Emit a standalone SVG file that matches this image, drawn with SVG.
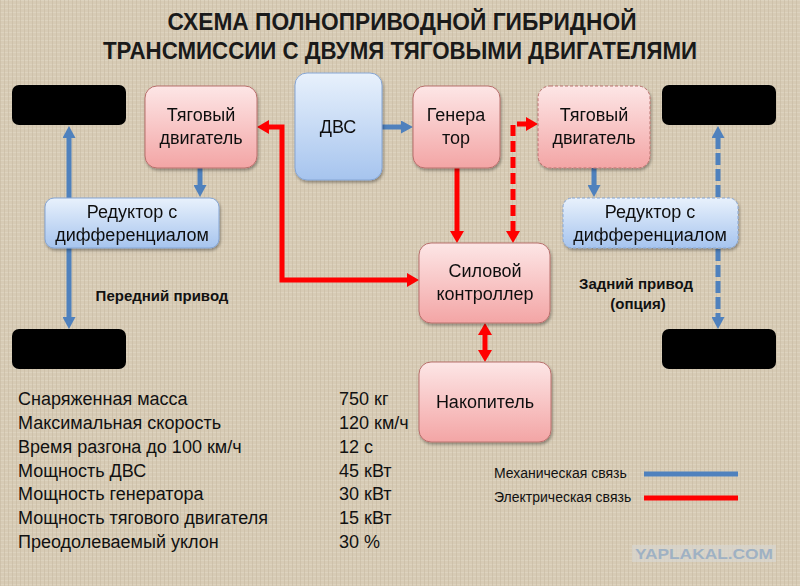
<svg xmlns="http://www.w3.org/2000/svg" width="800" height="586" viewBox="0 0 800 586">
<defs>
<style>
.t{font-family:"Liberation Sans",Arial,sans-serif;fill:#111}
.bx{font-size:18px;text-anchor:middle}
.ttl{font-size:24px;font-weight:bold;text-anchor:middle;fill:#1a1a1a}
.spec{font-size:18px}
.lbl{font-size:15px;font-weight:bold;text-anchor:middle}
.leg{font-size:14px}
.pink{fill:url(#gp);stroke:#b8706c;stroke-width:1}
.blue{fill:url(#gb);stroke:#86a6d4;stroke-width:1}
.dash{stroke-dasharray:3 2}
.wheel{fill:#000}
.mech{stroke:#4f81bd;stroke-width:5;fill:none}
.elec{stroke:#f00;stroke-width:5;fill:none}
</style>
<linearGradient id="gp" x1="0" y1="0" x2="0" y2="1">
<stop offset="0" stop-color="#fde6e6"/><stop offset="1" stop-color="#f3a5a5"/>
</linearGradient>
<linearGradient id="gb" x1="0" y1="0" x2="0" y2="1">
<stop offset="0" stop-color="#e8f1fc"/><stop offset="1" stop-color="#a6c4ee"/>
</linearGradient>
<filter id="sh" x="-10%" y="-10%" width="125%" height="130%">
<feDropShadow dx="1" dy="2" stdDeviation="1.5" flood-color="#000" flood-opacity="0.35"/>
</filter>
<pattern id="linen" width="4" height="4" patternUnits="userSpaceOnUse">
<rect width="4" height="4" fill="#d7cbb5"/>
<rect x="0" y="0" width="4" height="1" fill="#e0d6c3" opacity="0.7"/>
<rect x="0" y="0" width="1" height="4" fill="#c8bba3" opacity="0.6"/>
</pattern>
<marker id="ab" viewBox="0 0 12 13" markerWidth="12" markerHeight="13" refX="1" refY="6.5" orient="auto-start-reverse" markerUnits="userSpaceOnUse">
<path d="M0,0 L12,6.5 L0,13 Z" fill="#4f81bd"/>
</marker>
<marker id="ar" viewBox="0 0 12 14" markerWidth="12" markerHeight="14" refX="1" refY="7" orient="auto-start-reverse" markerUnits="userSpaceOnUse">
<path d="M0,0 L12,7 L0,14 Z" fill="#f00"/>
</marker>
</defs>
<rect width="800" height="586" fill="url(#linen)"/>

<g id="title">
<text class="t ttl" x="402" y="30" textLength="469" lengthAdjust="spacingAndGlyphs">СХЕМА ПОЛНОПРИВОДНОЙ ГИБРИДНОЙ</text>
<text class="t ttl" x="400" y="59" textLength="594" lengthAdjust="spacingAndGlyphs">ТРАНСМИССИИ С ДВУМЯ ТЯГОВЫМИ ДВИГАТЕЛЯМИ</text>
</g>

<g id="connectors">
<path class="mech" d="M382,127 L402,127" marker-end="url(#ab)"/>
<path class="mech" d="M69,137 L69,318" marker-start="url(#ab)" marker-end="url(#ab)"/>
<path class="mech" d="M200,168 L200,186" marker-end="url(#ab)"/>
<path class="mech" d="M594,168 L594,186" marker-end="url(#ab)"/>
<path class="mech" d="M718,137 L718,318" stroke-dasharray="12 4" marker-start="url(#ab)" marker-end="url(#ab)"/>
<path class="elec" d="M408,280 L282,280 L282,127 L268,127" marker-start="url(#ar)" marker-end="url(#ar)"/>
<path class="elec" d="M457,168 L457,232" marker-end="url(#ar)"/>
<path class="elec" d="M513,232 L513,124 L527,124" stroke-dasharray="11 5" marker-start="url(#ar)" marker-end="url(#ar)"/>
<path class="elec" d="M485,334 L485,351" marker-start="url(#ar)" marker-end="url(#ar)"/>
</g>

<g id="wheel-fl"><rect class="wheel" x="12" y="85" width="114" height="40" rx="7"/></g>
<g id="wheel-rl"><rect class="wheel" x="12" y="329" width="114" height="40" rx="7"/></g>
<g id="wheel-fr"><rect class="wheel" x="662" y="85" width="114" height="40" rx="7"/></g>
<g id="wheel-rr"><rect class="wheel" x="662" y="329" width="114" height="40" rx="7"/></g>

<g id="motor-front" filter="url(#sh)">
<rect class="pink" x="145" y="86" width="112" height="82" rx="12"/>
<text class="t bx" x="201" y="121">Тяговый</text>
<text class="t bx" x="201" y="144">двигатель</text>
</g>
<g id="ice" filter="url(#sh)">
<rect class="blue" x="295" y="73" width="87" height="107" rx="12"/>
<text class="t bx" x="338" y="133">ДВС</text>
</g>
<g id="generator" filter="url(#sh)">
<rect class="pink" x="413" y="86" width="87" height="82" rx="12"/>
<text class="t bx" x="456" y="121">Генера</text>
<text class="t bx" x="456" y="144">тор</text>
</g>
<g id="motor-rear" filter="url(#sh)">
<rect class="pink dash" x="538" y="86" width="112" height="82" rx="12"/>
<text class="t bx" x="594" y="121">Тяговый</text>
<text class="t bx" x="594" y="144">двигатель</text>
</g>
<g id="reducer-front" filter="url(#sh)">
<rect class="blue" x="45" y="198" width="174" height="50" rx="9"/>
<text class="t bx" x="132" y="218">Редуктор с</text>
<text class="t bx" x="132" y="241">дифференциалом</text>
</g>
<g id="reducer-rear" filter="url(#sh)">
<rect class="blue dash" x="563" y="198" width="175" height="50" rx="9"/>
<text class="t bx" x="650" y="218">Редуктор с</text>
<text class="t bx" x="650" y="241">дифференциалом</text>
</g>
<g id="controller" filter="url(#sh)">
<rect class="pink" x="419" y="243" width="131" height="80" rx="12"/>
<text class="t bx" x="485" y="277">Силовой</text>
<text class="t bx" x="485" y="300">контроллер</text>
</g>
<g id="storage" filter="url(#sh)">
<rect class="pink" x="419" y="362" width="132" height="80" rx="12"/>
<text class="t bx" x="485" y="408">Накопитель</text>
</g>

<g id="labels">
<text class="t lbl" x="162" y="301">Передний привод</text>
<text class="t lbl" x="636" y="289">Задний привод</text>
<text class="t lbl" x="638" y="309">(опция)</text>
</g>

<g id="specs" class="t spec">
<text x="18" y="405">Снаряженная масса</text>
<text x="18" y="429">Максимальная скорость</text>
<text x="18" y="453">Время разгона до 100 км/ч</text>
<text x="18" y="477">Мощность ДВС</text>
<text x="18" y="500">Мощность генератора</text>
<text x="18" y="524">Мощность тягового двигателя</text>
<text x="18" y="548">Преодолеваемый уклон</text>
<text x="339" y="405">750 кг</text>
<text x="339" y="429">120 км/ч</text>
<text x="339" y="453">12 с</text>
<text x="339" y="477">45 кВт</text>
<text x="339" y="500">30 кВт</text>
<text x="339" y="524">15 кВт</text>
<text x="339" y="548">30 %</text>
</g>

<g id="legend">
<text class="t leg" x="494" y="478">Механическая связь</text>
<line class="mech" x1="644" y1="474" x2="738" y2="474"/>
<text class="t leg" x="494" y="502">Электрическая связь</text>
<line class="elec" x1="644" y1="498" x2="738" y2="498"/>
</g>

<g id="watermark">
<rect x="632" y="545" width="144" height="17" fill="#d9d9d6" opacity="0.6"/>
<text x="704" y="559" text-anchor="middle" font-family="'Liberation Sans',Arial,sans-serif" font-weight="bold" font-size="14" fill="#9fb1c3" textLength="138" lengthAdjust="spacingAndGlyphs">YAPLAKAL.COM</text>
</g>
</svg>
